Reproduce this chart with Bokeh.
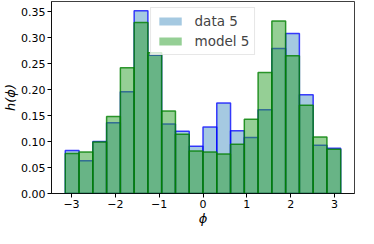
import numpy as np
from bokeh.plotting import figure
from bokeh.models import Range1d, Legend, LegendItem, FixedTicker, ColumnDataSource
from bokeh.embed import file_html
from bokeh.resources import INLINE

# histogram values, 20 bins from -pi to pi
data5 = [0.083, 0.063, 0.100, 0.136, 0.196, 0.352, 0.266, 0.134, 0.120, 0.091,
         0.128, 0.174, 0.121, 0.108, 0.161, 0.279, 0.308, 0.190, 0.093, 0.087]
model5 = [0.077, 0.080, 0.099, 0.148, 0.242, 0.329, 0.271, 0.159, 0.114, 0.082,
          0.080, 0.076, 0.095, 0.143, 0.233, 0.332, 0.265, 0.170, 0.109, 0.085]
series_labels = ["data 5", "model 5"]
x_ticks = [-3, -2, -1, 0, 1, 2, 3]
y_ticks = [0.0, 0.05, 0.10, 0.15, 0.20, 0.25, 0.30, 0.35]
x_label = "\u03d5"
y_label = "h(\u03d5)"

edges = np.linspace(-np.pi, np.pi, len(data5) + 1)
lo, hi = edges[:-1], edges[1:]

p = figure(width=358, height=228, output_backend="svg", toolbar_location=None,
           x_range=Range1d(-3.456, 3.456), y_range=Range1d(0, 0.3696),
           min_border_left=0, min_border_right=4, min_border_top=1, min_border_bottom=0)

src_d = ColumnDataSource(dict(left=lo, right=hi, top=data5, bottom=[0]*len(data5)))
src_m = ColumnDataSource(dict(left=lo, right=hi, top=model5, bottom=[0]*len(model5)))

p.quad(left="left", right="right", top="top", bottom="bottom", source=src_d,
       fill_color="#1f77b4", fill_alpha=0.4, line_color="blue", line_alpha=0.75, line_width=1.5)
p.quad(left="left", right="right", top="top", bottom="bottom", source=src_m,
       fill_color="#2ca02c", fill_alpha=0.5, line_color="green", line_alpha=0.8, line_width=1.5)

# zero-height copies used only for the legend swatches (fill only)
leg_d = p.quad(left="left", right="right", top="bottom", bottom="bottom", source=src_d,
               fill_color="#1f77b4", fill_alpha=0.4, line_alpha=0)
leg_m = p.quad(left="left", right="right", top="bottom", bottom="bottom", source=src_m,
               fill_color="#2ca02c", fill_alpha=0.5, line_alpha=0)

legend = Legend(items=[LegendItem(label=series_labels[0], renderers=[leg_d]),
                       LegendItem(label=series_labels[1], renderers=[leg_m])],
                location="top_center", label_text_font="DejaVu Sans", label_text_font_size="13.5px",
                glyph_width=28, glyph_height=10, label_standoff=11, spacing=4,
                padding=5, margin=6, border_line_color="#d0d0d0", border_line_width=1,
                background_fill_alpha=0.8, label_height=16)
p.add_layout(legend, "center")

p.xgrid.visible = False
p.ygrid.visible = False
p.outline_line_color = "black"
p.outline_line_alpha = 0.75
p.outline_line_width = 1

for ax in (p.xaxis[0], p.yaxis[0]):
    ax.axis_line_color = "black"
    ax.axis_line_alpha = 0.75
    ax.major_tick_line_color = "black"
    ax.major_tick_out = 4
    ax.major_tick_in = 0
    ax.minor_tick_line_color = None
    ax.major_label_text_font = "DejaVu Sans"
    ax.major_label_text_font_size = "11px"
    ax.major_label_text_color = "black"
    ax.major_label_text_line_height = 1.0
    ax.major_label_standoff = 2
    ax.axis_label_text_font = "DejaVu Sans"
    ax.axis_label_text_font_style = "italic"
    ax.axis_label_text_font_size = "13px"
    ax.axis_label_text_color = "black"
    ax.axis_label_text_line_height = 1.0
    ax.axis_label_standoff = 0

p.xaxis[0].ticker = FixedTicker(ticks=x_ticks)
p.xaxis[0].major_label_overrides = {t: str(t).replace("-", "\u2212") for t in x_ticks}
p.yaxis[0].ticker = FixedTicker(ticks=y_ticks)
p.yaxis[0].major_label_overrides = {t: f"{t:.2f}" for t in y_ticks}
p.xaxis[0].axis_label = x_label
p.yaxis[0].axis_label = y_label

open("out.html", "w").write(file_html(p, INLINE))
